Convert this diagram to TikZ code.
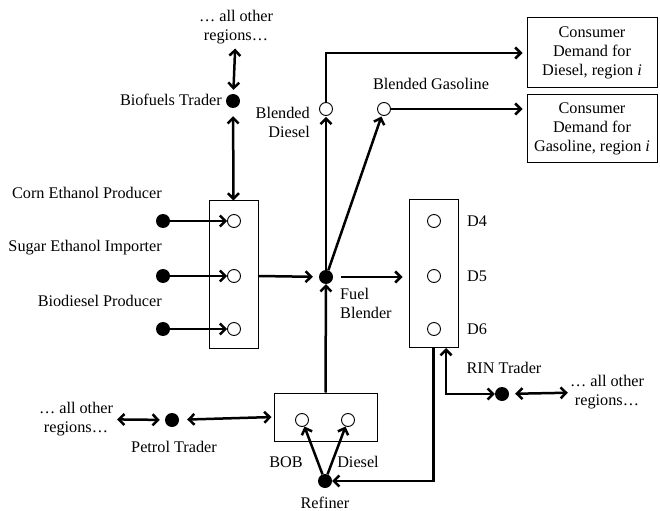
\documentclass[tikz,border=0pt]{standalone}
\usepackage{fontspec}
\setmainfont{Liberation Serif}
\usetikzlibrary{arrows.meta}
\begin{document}
\begin{tikzpicture}[x=1bp,y=-1bp,
  font=\fontsize{16.3}{19}\selectfont,
  dot/.style={circle,fill=black,inner sep=0,minimum size=14bp},
  hole/.style={circle,draw=black,fill=white,line width=0.9bp,inner sep=0,minimum size=13bp},
  box/.style={draw=black,line width=1bp,inner sep=0},
  lbl/.style={inner sep=0,align=center},
  flow/.style={line width=2.5bp,-{Straight Barb[length=5.5bp,width=11bp]}},
  both/.style={line width=2.5bp,{Straight Barb[length=5.5bp,width=11bp]}-{Straight Barb[length=5.5bp,width=11bp]}},
]
\useasboundingbox (0,0) rectangle (660,511);

% boxes
\node[box,minimum width=49bp,minimum height=147bp] (bbox) at (233.5,274.5) {};
\node[box,minimum width=49bp,minimum height=147bp] (dbox) at (433.5,273.5) {};
\node[box,minimum width=103bp,minimum height=48bp] (pbox) at (325.5,417) {};
\node[box,minimum width=130bp,minimum height=70bp,align=center] (cd) at (592,53) {Consumer\\Demand for\\Diesel, region \textit{i}};
\node[box,minimum width=130bp,minimum height=68bp,align=center] (cg) at (592,129) {Consumer\\Demand for\\Gasoline, region \textit{i}};

% circles
\node[hole] (c1) at (234,221) {};
\node[hole] (c2) at (234,276) {};
\node[hole] (c3) at (234,329) {};
\node[hole] (d4) at (434,221) {};
\node[hole] (d5) at (434,276) {};
\node[hole] (d6) at (434,329) {};
\node[hole] (bd) at (326,109) {};
\node[hole] (bg) at (384,109) {};
\node[hole] (bob) at (302,420) {};
\node[hole] (dsl) at (348,420) {};

% dots
\node[dot] (bt) at (233,101) {};
\node[dot] (s1) at (163,221) {};
\node[dot] (s2) at (163,276) {};
\node[dot] (s3) at (163,329) {};
\node[dot] (fb) at (326,277) {};
\node[dot] (rf) at (325,481) {};
\node[dot] (pt) at (172,420) {};
\node[dot] (rin) at (502,394) {};

% labels
\node[lbl] (oth1) at (236,27.5) {\ldots{} all other\\regions\ldots};
\node[lbl] (oth2) at (76,419) {\ldots{} all other\\regions\ldots};
\node[lbl] (oth3) at (607,392) {\ldots{} all other\\regions\ldots};
\node[lbl,anchor=east] (btl) at (222,100) {Biofuels Trader};
\node[lbl,anchor=east] (l1) at (162,193) {Corn Ethanol Producer};
\node[lbl,anchor=east] (l2) at (162,248) {Sugar Ethanol Importer};
\node[lbl,anchor=east] (l3) at (162,301) {Biodiesel Producer};
\node[lbl,align=left,anchor=north west] (fbl) at (340,288) {Fuel\\Blender};
\node[lbl,align=right,anchor=east] (bdl) at (310,122) {Blended\\Diesel};
\node[lbl] (bgl) at (431,84) {Blended Gasoline};
\node[lbl,anchor=west] (l4) at (467,221) {D4};
\node[lbl,anchor=west] (l5) at (467,276) {D5};
\node[lbl,anchor=west] (l6) at (467,329) {D6};
\node[lbl] (rfl) at (325,503) {Refiner};
\node[lbl] (bobl) at (286,462) {BOB};
\node[lbl] (dsll) at (358,462) {Diesel};
\node[lbl] (ptl) at (174,447) {Petrol Trader};
\node[lbl] (rinl) at (504,368) {RIN Trader};
\coordinate (rinup) at (446,348);

% connectors
\draw[both,shorten <=4bp,shorten >=4bp] (oth1) -- (bt);
\draw[both,shorten <=8bp] (bt) -- (bbox.north);
\draw[flow] (s1) -- (c1);
\draw[flow] (s2) -- (c2);
\draw[flow] (s3) -- (c3);
\draw[flow,shorten >=6bp] (bbox.east |- c2) -- (fb);
\draw[flow,shorten <=8bp,shorten >=6bp] (fb) -- (dbox.west |- fb);
\draw[flow,shorten >=1bp] (fb) -- (bd);
\draw[flow,shorten >=1bp] (fb) -- (bg);
\draw[flow,line join=miter,shorten >=4bp] (bd.north) |- (cd.west);
\draw[flow,shorten >=4bp] (bg) -- (bg -| cg.west);
\draw[flow] (pbox.north) -- (fb);
\draw[flow] (rf) -- (bob);
\draw[flow] (rf) -- (dsl);
\draw[flow,line join=miter] (dbox.south) |- (rf);
\draw[both,line join=miter] (rinup) |- (rin);
\draw[both,shorten <=6bp,shorten >=2bp] (rin) -- (oth3);
\draw[both,shorten <=8bp,shorten >=2bp] (pt) -- (pbox.west);
\draw[both,shorten <=4bp,shorten >=5bp] (oth2) -- (pt);
\end{tikzpicture}
\end{document}
